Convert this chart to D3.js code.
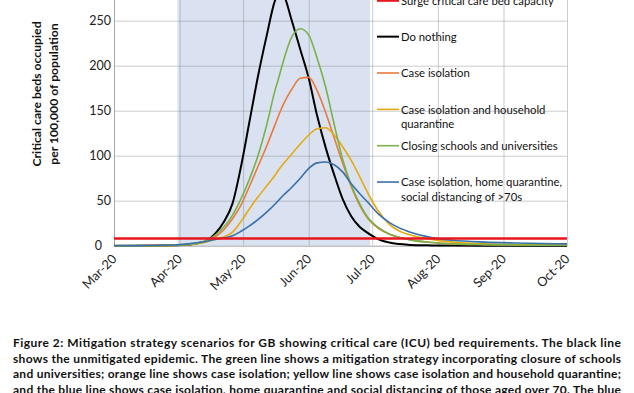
<!DOCTYPE html>
<html><head><meta charset="utf-8">
<script src="https://cdn.jsdelivr.net/npm/d3@7"></script>
<style>
html,body{margin:0;padding:0;background:#fff;}
svg{display:block;font-family:Lato,"Open Sans",sans-serif;}
</style></head><body>
<svg id="chart" width="634" height="393"></svg>
<script>
// ---- data ----
const dates = ["2020-03-01","2020-03-11","2020-03-21","2020-03-29","2020-04-04","2020-04-10","2020-04-14","2020-04-18","2020-04-22","2020-04-26","2020-04-30","2020-05-04","2020-05-08","2020-05-12","2020-05-16","2020-05-18","2020-05-20","2020-05-24","2020-05-28","2020-06-01","2020-06-05","2020-06-09","2020-06-13","2020-06-17","2020-06-21","2020-06-25","2020-06-29","2020-07-04","2020-07-09","2020-07-14","2020-07-19","2020-07-29","2020-08-08","2020-08-23","2020-09-07","2020-10-01"];
const doNothing = [0,0,0.1,0.4,1,3,6,14,27,47,88,138,188,232,272,282,279,250,218,186,144,109,79,52,33,21,14,7,3.5,1.8,0.8,0.3,0.1,0,0,0];
const caseIsolation = [0,0,0.1,0.4,1,3,5.5,10,18,30,45,66,88,110,134,146,157,174,186,187,172,148,120,92,66,45,30,19,13,9,6.5,3.5,2,1.2,0.8,0.5];
const caseIsolationHQ = [0,0,0.1,0.4,1,2.5,4.5,7.5,10,15,27,41,54,66,78,85,91,102,113,123,130,131,123,110,95,77,58,38,24,16,12,7,4,2,1.3,0.8];
const closingSchools = [0,0,0.1,0.4,1,3,6,12,21,34,52,74,100,133,172,188,205,232,241,234,208,176,135,96,68,47,31,20,13,9,6.5,3.5,2,1.2,0.8,0.5];
const caseIsolationHQSD = [0,0.1,0.3,0.8,1.8,3.5,5,7,8.5,11,16,22,29,37,46,51,56,65,75,86,92,93,90,82,69,58,48,35,26,19.5,15,9,6,4,3,2];
const surgeCapacity = 8;
const shadeStart = "2020-03-31", shadeEnd = "2020-06-30";
const monthTicks = ["2020-03-01","2020-04-01","2020-05-01","2020-06-01","2020-07-01","2020-08-01","2020-09-01","2020-10-01"];
const yTicks = [0,50,100,150,200,250];
const yMax = 300;
const legendLabels = [
  ["Surge critical care bed capacity"],
  ["Do nothing"],
  ["Case isolation"],
  ["Case isolation and household","quarantine"],
  ["Closing schools and universities"],
  ["Case isolation, home quarantine,","social distancing of >70s"]
];
const yTitleLines = ["Critical care beds occupied","per 100,000 of population"];
const captionLines = [
  "Figure 2: Mitigation strategy scenarios for GB showing critical care (ICU) bed requirements. The black line",
  "shows the unmitigated epidemic. The green line shows a mitigation strategy incorporating closure of schools",
  "and universities; orange line shows case isolation; yellow line shows case isolation and household quarantine;",
  "and the blue line shows case isolation, home quarantine and social distancing of those aged over 70. The blue"
];

// ---- build ----
const parse = d3.utcParse("%Y-%m-%d");
const svg = d3.select("#chart");
const L = 114, R = 567, Y0 = 245.7;
const x = d3.scaleUtc().domain([parse("2020-03-01"), parse("2020-10-01")]).range([L, R]);
const y = d3.scaleLinear().domain([0, yMax]).range([Y0, Y0 - 270]);

svg.append("rect").attr("width",634).attr("height",393).attr("fill","#fff");

// shaded intervention period
svg.append("rect")
  .attr("x", x(parse(shadeStart))).attr("y", y(yMax))
  .attr("width", x(parse(shadeEnd)) - x(parse(shadeStart)))
  .attr("height", y(0) - y(yMax))
  .attr("fill", "#dae2f1");

// gridlines
const gy = svg.append("g").attr("transform", `translate(${L},0)`)
  .call(d3.axisLeft(y).tickValues(yTicks.filter(d => d > 0).concat([yMax])).tickSize(-(R - L)).tickFormat(""));
gy.select(".domain").remove();
gy.selectAll("line").attr("stroke", "#7f7f7f").attr("stroke-opacity", 0.4);

const gx = svg.append("g").attr("transform", `translate(0,${Y0})`)
  .call(d3.axisBottom(x).tickValues(monthTicks.map(parse)).tickSize(-(Y0 - y(yMax))).tickFormat(""));
gx.select(".domain").remove();
gx.selectAll("line").attr("stroke", "#7f7f7f").attr("stroke-opacity", 0.4);

// axes
const ay = svg.append("g").attr("transform", `translate(${L},0)`)
  .call(d3.axisLeft(y).tickValues(yTicks).tickSize(0).tickPadding(3));
ay.select(".domain").attr("stroke", "#a6a6a6");
ay.selectAll("text").attr("font-size", "12.5px").attr("fill", "#222")
  .attr("font-family", "Lato, sans-serif")
  .attr("dx", d => d === 0 ? -9 : 0);

const ax = svg.append("g").attr("transform", `translate(0,${Y0})`)
  .call(d3.axisBottom(x).tickValues(monthTicks.map(parse)).tickSize(0).tickFormat(d3.utcFormat("%b-%y")));
ax.select(".domain").attr("stroke", "#a6a6a6");
ax.selectAll("text").attr("font-size", "12.8px").attr("fill", "#222")
  .attr("font-family", "Lato, sans-serif")
  .attr("y", 0).attr("dy", 0)
  .attr("transform", "translate(3,14) rotate(-45)")
  .style("text-anchor", "end");

// y-axis title
const yt = svg.append("text")
  .attr("transform", "translate(45,94) rotate(-90)")
  .attr("text-anchor", "middle").attr("font-weight", "bold")
  .attr("font-size", "12.2px").attr("fill", "#111");
yt.selectAll("tspan").data(yTitleLines).join("tspan")
  .attr("x", 0).attr("y", (d, i) => i === 0 ? -4 : 13).text(d => d);

// series
const series = [
  {values: doNothing, color: "#000000", width: 2},
  {values: caseIsolation, color: "#ea7a3c", width: 1.6},
  {values: caseIsolationHQ, color: "#e5aa12", width: 1.6},
  {values: closingSchools, color: "#78b24a", width: 1.6},
  {values: caseIsolationHQSD, color: "#3a70a8", width: 1.6}
];
const line = d3.line()
  .x(d => x(d.date)).y(d => y(d.v))
  .curve(d3.curveMonotoneX);
series.forEach(s => {
  const pts = dates.map((d, i) => ({date: parse(d), v: s.values[i]}));
  svg.append("path").datum(pts)
    .attr("fill", "none").attr("stroke", s.color)
    .attr("stroke-width", s.width).attr("stroke-linejoin", "round")
    .attr("d", line);
});

// surge capacity line
svg.append("line")
  .attr("x1", L).attr("x2", R)
  .attr("y1", y(surgeCapacity)).attr("y2", y(surgeCapacity))
  .attr("stroke", "#e8151d").attr("stroke-width", 2.5);

// legend
const legendColors = ["#e8151d", "#000000", "#ea7a3c", "#e5aa12", "#78b24a", "#3a70a8"];
const legendWidths = [3, 2, 1.6, 1.6, 1.6, 1.6];
const lg = svg.append("g").attr("font-size", "11.3px").attr("fill", "#111");
legendLabels.forEach((lab, i) => {
  const cy = 0.3 + i * 36.35;
  lg.append("line").attr("x1", 377).attr("x2", 399).attr("y1", cy).attr("y2", cy)
    .attr("stroke", legendColors[i]).attr("stroke-width", legendWidths[i]);
  const t = lg.append("text").attr("x", 401).attr("y", cy + 4.2);
  lab.forEach((s, j) => t.append("tspan").attr("x", 401).attr("dy", j === 0 ? 0 : 14.5).text(s));
});

// caption
const cap = svg.append("g").attr("font-weight", "bold").attr("font-size", "12px").attr("fill", "#111");
captionLines.forEach((s, i) => {
  cap.append("text").attr("x", 13).attr("y", 347 + i * 15.5)
    .attr("textLength", 608).attr("lengthAdjust", "spacing").text(s);
});
</script>
</body></html>
